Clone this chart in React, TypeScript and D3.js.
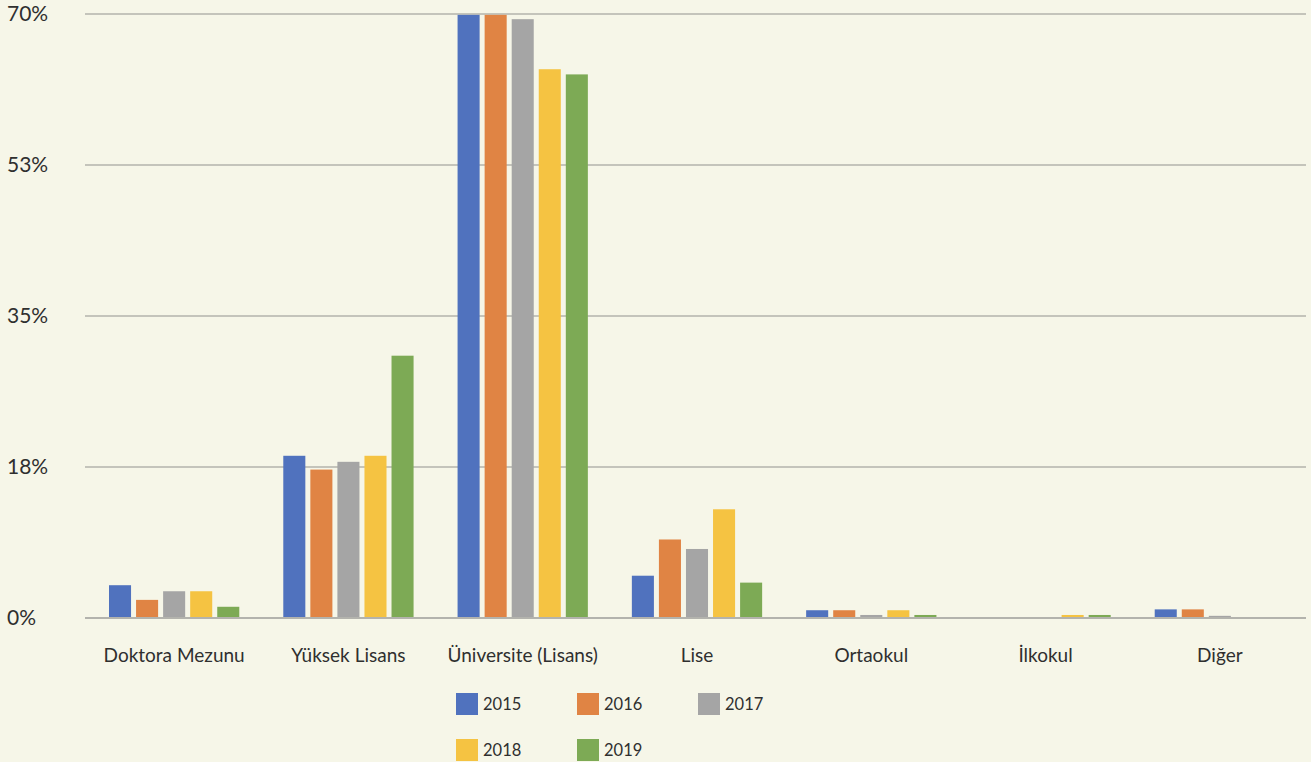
import React, { useEffect, useRef } from 'react';
import * as d3 from 'd3';

const categories = ['Doktora Mezunu', 'Yüksek Lisans', 'Üniversite (Lisans)', 'Lise', 'Ortaokul', 'İlkokul', 'Diğer'];
const years = ['2015', '2016', '2017', '2018', '2019'];
const v2015 = [3.8, 18.8, 69.9, 4.9, 0.9, 0, 1.0];
const v2016 = [2.1, 17.2, 69.9, 9.1, 0.9, 0, 1.0];
const v2017 = [3.1, 18.1, 69.4, 8.0, 0.35, 0, 0.25];
const v2018 = [3.1, 18.8, 63.6, 12.6, 0.9, 0.35, 0];
const v2019 = [1.3, 30.4, 63.0, 4.1, 0.35, 0.35, 0];
const tickValues = [0, 17.5, 35, 52.5, 70];
const tickLabels = ['0%', '18%', '35%', '53%', '70%'];
const colors = ['#5072be', '#e08444', '#a5a5a5', '#f5c342', '#7daa55'];

const series = [v2015, v2016, v2017, v2018, v2019];

export default function App() {
  const ref = useRef<SVGSVGElement>(null);

  useEffect(() => {
    const width = 1311, height = 762;
    const svg = d3.select(ref.current);
    svg.selectAll('*').remove();
    const font = 'Lato, "Open Sans", sans-serif';

    svg.append('rect').attr('width', width).attr('height', height).attr('fill', '#f6f6e8');

    const x0 = d3.scaleBand<string>().domain(categories).range([87, 1307]);
    const x1 = d3.scaleBand<string>().domain(years)
      .range([22, x0.bandwidth() - 22]).paddingInner(5 / 27).paddingOuter(0);
    const y = d3.scaleLinear().domain([0, 70]).range([618, 14]);

    // gridlines
    svg.append('g').selectAll('line').data(tickValues.slice(1)).enter().append('line')
      .attr('x1', 85).attr('x2', 1306)
      .attr('y1', d => y(d)).attr('y2', d => y(d))
      .attr('stroke', '#b3b3ad').attr('stroke-width', 1.3);

    // y labels
    svg.append('g').selectAll('text').data(tickValues).enter().append('text')
      .attr('x', 7).attr('y', d => y(d)).attr('dy', '0.35em')
      .attr('font-family', font).attr('font-size', 21).attr('fill', '#2f2f2f')
      .text((d, i) => tickLabels[i]);

    // bars
    const groups = svg.append('g').selectAll('g').data(categories).enter().append('g')
      .attr('transform', c => `translate(${x0(c)},0)`);
    groups.selectAll('rect')
      .data((c, ci) => years.map((yr, si) => ({ yr, si, v: series[si][ci] })))
      .enter().append('rect')
      .attr('x', d => x1(d.yr)!)
      .attr('width', x1.bandwidth())
      .attr('y', d => y(d.v))
      .attr('height', d => y(0) - y(d.v))
      .attr('fill', d => colors[d.si]);

    // baseline
    svg.append('line').attr('x1', 85).attr('x2', 1306).attr('y1', y(0)).attr('y2', y(0))
      .attr('stroke', '#b3b3ad').attr('stroke-width', 2);

    // category labels
    svg.append('g').selectAll('text').data(categories).enter().append('text')
      .attr('x', c => x0(c)! + x0.bandwidth() / 2).attr('y', 655).attr('dy', '0.35em')
      .attr('text-anchor', 'middle')
      .attr('font-family', font).attr('font-size', 19).attr('fill', '#2f2f2f')
      .text(c => c);

    // legend
    const legendPos = [[456, 693], [577, 693], [698, 693], [456, 739], [577, 739]];
    const lg = svg.append('g').selectAll('g').data(years).enter().append('g')
      .attr('transform', (d, i) => `translate(${legendPos[i][0]},${legendPos[i][1]})`);
    lg.append('rect').attr('width', 22).attr('height', 22).attr('fill', (d, i) => colors[i]);
    lg.append('text').attr('x', 27).attr('y', 11).attr('dy', '0.35em')
      .attr('font-family', font).attr('font-size', 16.5).attr('fill', '#2f2f2f')
      .text(d => d);
  }, []);

  return (
    <svg ref={ref} width={1311} height={762}
      style={{ position: 'absolute', left: 0, top: 0, display: 'block' }} />
  );
}
